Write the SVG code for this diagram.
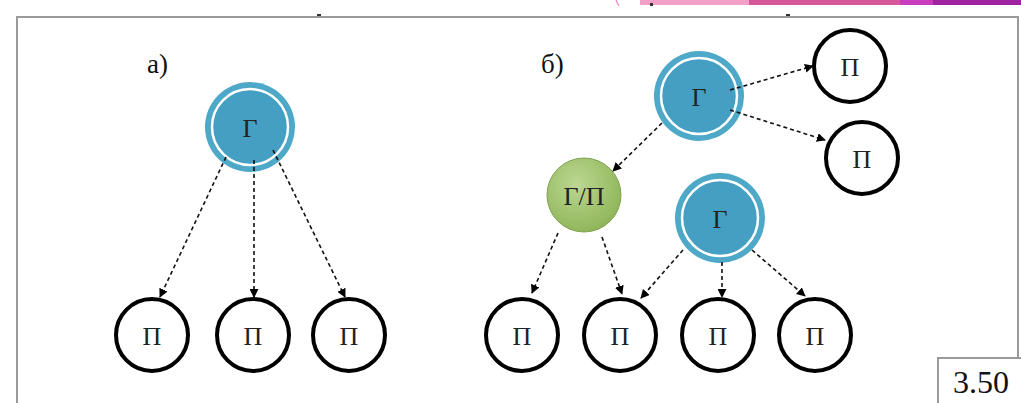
<svg xmlns="http://www.w3.org/2000/svg" width="1021" height="403" viewBox="0 0 1021 403">
<defs>
<radialGradient id="green" cx="0.4" cy="0.35" r="0.7">
<stop offset="0" stop-color="#bcd792"/>
<stop offset="1" stop-color="#8db457"/>
</radialGradient>
<marker id="ah" viewBox="0 0 10 10" refX="9" refY="5" markerWidth="9" markerHeight="9" markerUnits="userSpaceOnUse" orient="auto">
<path d="M0,0 L10,5 L0,10 z" fill="#000"/>
</marker>
</defs>
<style>
.lbl{font-family:"Liberation Serif","Times New Roman",serif;fill:#111;}
.t{font-family:"Liberation Serif","Times New Roman",serif;font-size:26px;fill:#222;text-anchor:middle;dominant-baseline:central;}
.gouter{fill:#4ea8c8;}
.ginner{fill:#449fc2;stroke:#fff;stroke-width:2.5;}
.p{fill:#fff;stroke:#000;stroke-width:4;}
.c{fill:none;stroke:#111;stroke-width:1.6;stroke-dasharray:4 3;marker-end:url(#ah);}
</style>
<rect width="1021" height="403" fill="#fff"/>
<g id="banner">
<rect x="640" y="0" width="109" height="5" fill="#f3a0c9"/>
<rect x="749" y="0" width="151" height="5" fill="#d5589b"/>
<rect x="900" y="0" width="33" height="5" fill="#c93cbd"/>
<rect x="933" y="0" width="88" height="5" fill="#9f22a0"/>
<path d="M616,0 Q617,3 619,6" fill="none" stroke="#f07fc0" stroke-width="1.2"/>
<rect x="317" y="14" width="4" height="3" fill="#333"/>
<rect x="786" y="14" width="4" height="3" fill="#333"/>
<rect x="650" y="3" width="3" height="3" fill="#333"/>
</g>
<g id="frame">
<path d="M17,403 L17,17 L1018,17 L1018,358" fill="none" stroke="#9a9a9a" stroke-width="2"/>
</g>
<text class="lbl" x="147" y="73" font-size="27">а)</text>
<text class="lbl" x="541" y="73" font-size="27">б)</text>
<g id="a_G">
<circle class="gouter" cx="250" cy="127" r="45"/>
<circle class="ginner" cx="250" cy="127" r="38"/>
<text class="t" x="250" y="128">Г</text>
</g>
<g id="a_P1"><circle class="p" cx="152" cy="335" r="36"/><text class="t" x="152" y="336">П</text></g>
<g id="a_P2"><circle class="p" cx="253" cy="335" r="36"/><text class="t" x="253" y="336">П</text></g>
<g id="a_P3"><circle class="p" cx="349" cy="335" r="36"/><text class="t" x="349" y="336">П</text></g>
<g id="b_G1">
<circle class="gouter" cx="699" cy="96" r="45"/>
<circle class="ginner" cx="699" cy="96" r="38"/>
<text class="t" x="699" y="97">Г</text>
</g>
<g id="b_G2">
<circle class="gouter" cx="720" cy="218" r="45"/>
<circle class="ginner" cx="720" cy="218" r="38"/>
<text class="t" x="720" y="219">Г</text>
</g>
<g id="b_GP">
<circle cx="584" cy="195" r="37" fill="url(#green)" stroke="#7fa24c" stroke-width="1"/>
<text class="t" x="584" y="196">Г/П</text>
</g>
<g id="b_P_top1"><circle class="p" cx="850" cy="66" r="36"/><text class="t" x="850" y="67">П</text></g>
<g id="b_P_top2"><circle class="p" cx="862" cy="158" r="36"/><text class="t" x="862" y="159">П</text></g>
<g id="b_P1"><circle class="p" cx="522" cy="335" r="36"/><text class="t" x="522" y="336">П</text></g>
<g id="b_P2"><circle class="p" cx="620" cy="335" r="36"/><text class="t" x="620" y="336">П</text></g>
<g id="b_P3"><circle class="p" cx="718" cy="335" r="36"/><text class="t" x="718" y="336">П</text></g>
<g id="b_P4"><circle class="p" cx="815" cy="335" r="36"/><text class="t" x="815" y="336">П</text></g>
<g id="connectors">
<line class="c" x1="226" y1="157" x2="160" y2="297"/>
<line class="c" x1="254" y1="160" x2="254" y2="297"/>
<line class="c" x1="273" y1="150" x2="345" y2="297"/>
<line class="c" x1="730" y1="90" x2="813" y2="66"/>
<line class="c" x1="730" y1="110" x2="825" y2="140"/>
<line class="c" x1="662" y1="123" x2="613" y2="171"/>
<line class="c" x1="558" y1="233" x2="532" y2="293"/>
<line class="c" x1="602" y1="237" x2="622" y2="294"/>
<line class="c" x1="683" y1="250" x2="641" y2="298"/>
<line class="c" x1="722" y1="262" x2="722" y2="297"/>
<line class="c" x1="752" y1="250" x2="805" y2="296"/>
</g>
<g id="figno">
<path d="M938,403 L938,358 L1021,358" fill="none" stroke="#9a9a9a" stroke-width="2"/>
<text class="lbl" x="953" y="393" font-size="32">3.50</text>
</g>
</svg>
